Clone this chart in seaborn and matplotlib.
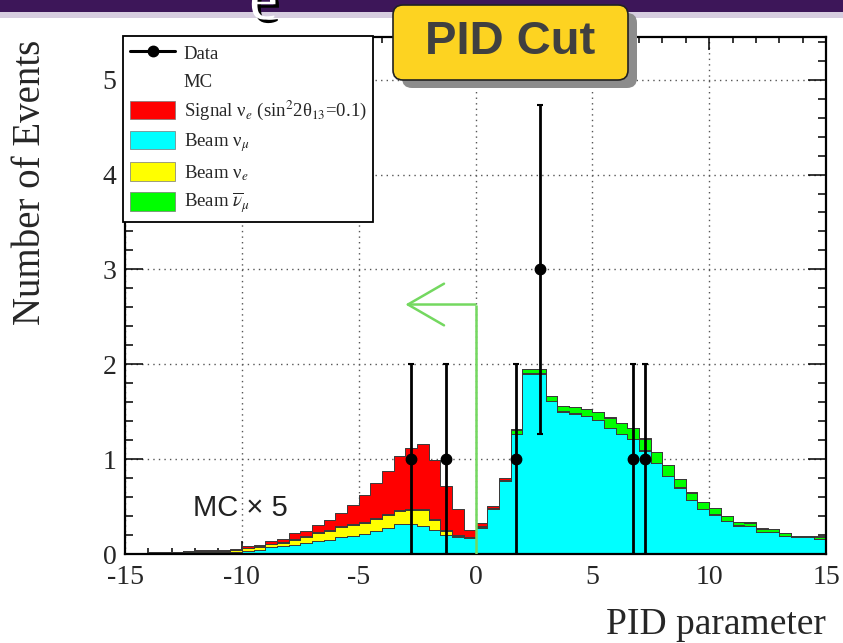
import numpy as np
import pandas as pd
import matplotlib
matplotlib.use("Agg")
import matplotlib.pyplot as plt
import matplotlib.patheffects as pe
from matplotlib.patches import Patch, Rectangle, FancyBboxPatch
from matplotlib.lines import Line2D
from matplotlib.ticker import MultipleLocator
import seaborn as sns

# ---------------------------------------------------------------
# PID parameter histogram: 60 bins of width 0.5 between -15 and 15
# ---------------------------------------------------------------
bin_edges = np.linspace(-15, 15, 61)
bin_centers = 0.5 * (bin_edges[:-1] + bin_edges[1:])

# Stacked MC components (events per bin, MC x 5)
beam_numu = [
    0.008, 0.008, 0.010, 0.010, 0.010, 0.015, 0.018, 0.018, 0.018, 0.025,
    0.035, 0.045, 0.070, 0.080, 0.100,
    0.12, 0.14, 0.15, 0.18, 0.19, 0.21, 0.24, 0.27, 0.32, 0.32,
    0.29, 0.255, 0.20, 0.18, 0.17,
    0.27, 0.47, 0.765, 1.26, 1.90, 1.90, 1.61, 1.50, 1.48, 1.45,
    1.41, 1.33, 1.26, 1.21, 1.09, 0.96, 0.82, 0.70, 0.57, 0.475,
    0.415, 0.35, 0.30, 0.29, 0.23, 0.227, 0.19, 0.175, 0.177, 0.155,
]
beam_nue = [
    0.004, 0.004, 0.005, 0.005, 0.005, 0.008, 0.010, 0.010, 0.010, 0.013,
    0.025, 0.030, 0.035, 0.040, 0.050,
    0.06, 0.08, 0.095, 0.10, 0.12, 0.12, 0.13, 0.14, 0.13, 0.14,
    0.17, 0.105, 0.045, 0.015, 0.005,
    0.010, 0.010, 0.005, 0.005, 0.005, 0.005, 0.003, 0.003, 0.003, 0.003,
    0.003, 0.003, 0.003, 0.003, 0.003, 0.003, 0.003, 0.003, 0.003, 0.003,
    0.003, 0.003, 0.003, 0.003, 0.003, 0.003, 0.003, 0.003, 0.003, 0.003,
]
beam_numubar = [
    0.002, 0.002, 0.003, 0.003, 0.003, 0.004, 0.004, 0.004, 0.004, 0.005,
    0.005, 0.005, 0.005, 0.005, 0.010,
    0.010, 0.010, 0.010, 0.010, 0.010, 0.010, 0.010, 0.010, 0.010, 0.010,
    0.010, 0.010, 0.010, 0.005, 0.005,
    0.010, 0.010, 0.015, 0.045, 0.045, 0.045, 0.054, 0.054, 0.064, 0.074,
    0.084, 0.104, 0.114, 0.114, 0.124, 0.114, 0.114, 0.084, 0.074, 0.069,
    0.064, 0.044, 0.034, 0.039, 0.034, 0.032, 0.024, 0.014, 0.012, 0.024,
]
signal_nue = [
    0.001, 0.001, 0.002, 0.002, 0.002, 0.008, 0.008, 0.008, 0.008, 0.012,
    0.015, 0.015, 0.030, 0.035, 0.060,
    0.05, 0.075, 0.105, 0.145, 0.20, 0.28, 0.37, 0.455, 0.575, 0.65,
    0.69, 0.62, 0.46, 0.27, 0.075,
    0.035, 0.020, 0.015, 0.010, 0.005, 0.005, 0.003, 0.003, 0.003, 0.003,
    0.003, 0.003, 0.003, 0.003, 0.003, 0.003, 0.003, 0.003, 0.003, 0.003,
    0.003, 0.003, 0.003, 0.003, 0.003, 0.003, 0.003, 0.003, 0.003, 0.003,
]

# Observed data
data_pid = [-2.75, -1.25, 1.75, 2.75, 6.75, 7.25]
data_events = [1, 1, 1, 3, 1, 1]

# Axis ticks
x_ticks = [-15, -10, -5, 0, 5, 10, 15]
y_ticks = [0, 1, 2, 3, 4, 5]

# Selection cut on the PID parameter (events below are kept)
pid_cut = 0.0
arrow_height = 2.63
arrow_tip = -3.0

# Component labels / colours
LBL_SIG = r"Signal ν$_e$ (sin$^2$2θ$_{13}$=0.1)"
LBL_NUMU = r"Beam ν$_\mu$"
LBL_NUE = r"Beam ν$_e$"
LBL_NUMUBAR = r"Beam $\overline{\nu}_\mu$"
colors = {LBL_SIG: "#ff0000", LBL_NUMU: "#00ffff",
          LBL_NUE: "#ffff00", LBL_NUMUBAR: "#00ff00"}

frames = []
for lbl, vals in [(LBL_NUMU, beam_numu), (LBL_NUE, beam_nue),
                  (LBL_NUMUBAR, beam_numubar), (LBL_SIG, signal_nue)]:
    frames.append(pd.DataFrame({"pid": bin_centers, "events": vals,
                                "component": lbl}))
mc = pd.concat(frames, ignore_index=True)

# ---------------------------------------------------------------
sns.set_style("ticks")
plt.rcParams["font.family"] = ["Liberation Serif", "DejaVu Serif"]
plt.rcParams["mathtext.fontset"] = "stix"
plt.rcParams["axes.unicode_minus"] = False

fig = plt.figure(figsize=(8.43, 6.43), dpi=100)
fig.patch.set_facecolor("white")
ax = fig.add_axes([125 / 843, 89 / 643, 701 / 843, 517 / 643])

# Stacked MC (last hue level sits at the bottom of the stack)
sns.histplot(
    data=mc, x="pid", weights="events", hue="component",
    hue_order=[LBL_SIG, LBL_NUMUBAR, LBL_NUE, LBL_NUMU],
    palette=colors, bins=[float(e) for e in bin_edges], multiple="stack",
    element="step", fill=True, alpha=1.0, linewidth=0.7,
    edgecolor="#3a3a3a", legend=False, ax=ax, zorder=2,
)

# Data with Poisson errors
ax.errorbar(data_pid, data_events, yerr=np.sqrt(data_events), fmt="o",
            color="black", ms=7.5, elinewidth=2.0, capsize=2.5,
            capthick=1.5, zorder=6)

# Cut line and arrow
cut_color = "#74d860"
ax.plot([pid_cut, pid_cut], [0, arrow_height], color=cut_color, lw=1.8,
        zorder=5, solid_capstyle="butt")
ax.annotate("", xy=(arrow_tip, arrow_height), xytext=(pid_cut, arrow_height),
            arrowprops=dict(arrowstyle="->,head_length=1.3,head_width=0.75",
                            color=cut_color, lw=1.8, mutation_scale=20,
                            shrinkA=0, shrinkB=0),
            zorder=5)

# Axes styling
ax.set_xlim(-15, 15)
ax.set_ylim(0, 5.45)
ax.set_xticks(x_ticks)
ax.set_xticklabels([str(t) for t in x_ticks])
ax.set_yticks(y_ticks)
ax.set_yticklabels([str(t) for t in y_ticks])
ax.xaxis.set_minor_locator(MultipleLocator(1))
ax.yaxis.set_minor_locator(MultipleLocator(0.2))
ax.tick_params(which="both", direction="in", top=True, right=True,
               width=1.1, color="black", labelsize=20)
ax.tick_params(axis="x", which="major", length=9.5, pad=8)
ax.tick_params(axis="x", which="minor", length=4.5)
ax.tick_params(axis="y", which="major", length=13, pad=6)
ax.tick_params(axis="y", which="minor", length=6)
for sp in ax.spines.values():
    sp.set_linewidth(1.6)
    sp.set_color("black")
ax.set_axisbelow(True)
ax.grid(True, which="major", linestyle=(0, (1, 3)), color="#555555", lw=1.0)

ax.set_xlabel("PID parameter", fontsize=27, loc="right")
ax.xaxis.set_label_coords(1.0, -0.137)
ax.xaxis.label.set_va("center")
ax.set_ylabel("Number of Events", fontsize=28, loc="top")
ax.yaxis.set_label_coords(-0.135, 0.994)
ax.yaxis.label.set_va("center")

ax.text(0.164, 0.089, "MC × 5", transform=ax.transAxes, fontsize=21,
        family="Liberation Sans", color="#222222", ha="center", va="center")

# Legend
handles = [
    Line2D([0], [0], color="black", lw=2.2, marker="o", ms=7.5),
    Patch(facecolor="none", edgecolor="none"),
    Patch(facecolor=colors[LBL_SIG], edgecolor="#777777", lw=0.5),
    Patch(facecolor=colors[LBL_NUMU], edgecolor="#777777", lw=0.5),
    Patch(facecolor=colors[LBL_NUE], edgecolor="#777777", lw=0.5),
    Patch(facecolor=colors[LBL_NUMUBAR], edgecolor="#777777", lw=0.5),
]
labels = ["Data", "MC", LBL_SIG, LBL_NUMU, LBL_NUE, LBL_NUMUBAR]
leg = ax.legend(handles, labels, loc="upper left",
                bbox_to_anchor=(123 / 843, 1 - 36 / 643),
                bbox_transform=fig.transFigure, fontsize=13.5,
                frameon=True, fancybox=False, framealpha=1,
                edgecolor="black", borderpad=0.38, handlelength=2.4,
                handleheight=1.15, handletextpad=0.45, labelspacing=0.44,
                borderaxespad=0)
leg.get_frame().set_linewidth(1.3)
leg.set_zorder(10)

# Slide banner at the top
fig.patches.append(Rectangle((0, 1 - 12 / 643), 1, 12 / 643,
                             transform=fig.transFigure, facecolor="#3d1659",
                             edgecolor="none", zorder=1))
fig.patches.append(Rectangle((0, 1 - 18 / 643), 1, 6 / 643,
                             transform=fig.transFigure, facecolor="#d6cddf",
                             edgecolor="none", zorder=1))
fig.text(2.635, 6.24, "e", transform=fig.dpi_scale_trans, fontsize=46,
         family="Liberation Serif", color="white", ha="center",
         va="baseline", zorder=3,
         path_effects=[pe.SimplePatchShadow(offset=(2.5, -2.5),
                                            shadow_rgbFace="black", alpha=1.0),
                       pe.Normal()])

# "PID Cut" badge
fig.patches.append(FancyBboxPatch((4.02, 5.55), 2.35, 0.75,
                                  boxstyle="round,pad=0,rounding_size=0.1",
                                  transform=fig.dpi_scale_trans,
                                  facecolor="#8c8c8c", edgecolor="none",
                                  zorder=2))
fig.patches.append(FancyBboxPatch((3.93, 5.63), 2.35, 0.75,
                                  boxstyle="round,pad=0,rounding_size=0.1",
                                  transform=fig.dpi_scale_trans,
                                  facecolor="#fdd321", edgecolor="#222222",
                                  lw=1.2, zorder=2))
fig.text(5.105, 6.01, "PID Cut", transform=fig.dpi_scale_trans,
         fontsize=34, fontweight="bold", family="Liberation Sans",
         color="#404040", ha="center", va="center", zorder=4)

fig.savefig("out.png", dpi=100)
